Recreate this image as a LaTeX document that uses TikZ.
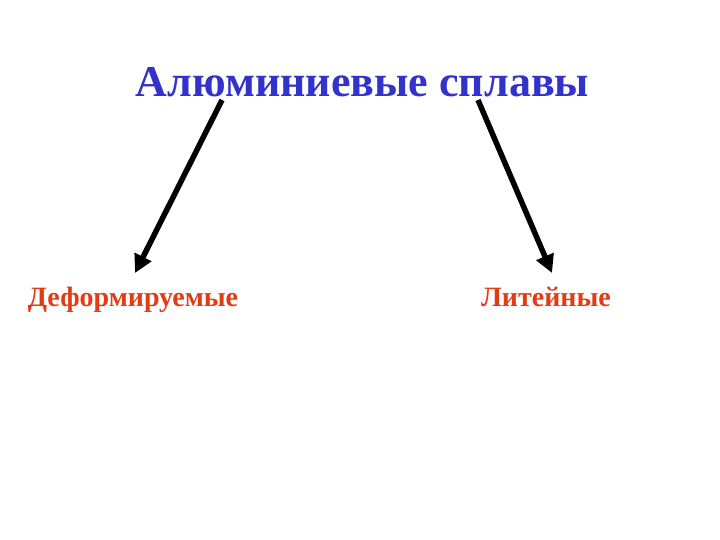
\documentclass[tikz,border=0pt]{standalone}
\usepackage{fontspec}
\setmainfont{Liberation Serif}
\usetikzlibrary{arrows.meta}
\definecolor{titleblue}{RGB}{51,51,204}
\definecolor{labelred}{RGB}{226,60,20}
\tikzset{
  arr/.style={line width=5.5pt, -{Triangle[length=18pt,width=18pt]}},
  lbl/.style={font=\bfseries\fontsize{28}{32}\selectfont, text=labelred, inner sep=0pt, anchor=base}
}
\begin{document}
\begin{tikzpicture}[x=1pt,y=-1pt]
\useasboundingbox (0,0) rectangle (720,540);
\node[font=\bfseries\fontsize{44}{48}\selectfont, text=titleblue, inner sep=0pt, anchor=base] (title) at (362.5,97) {Алюминиевые сплавы};
\node[lbl] (def) at (133,306) {Деформируемые};
\node[lbl] (lit) at (546,306) {Литейные};
\coordinate (s1) at (222,100);
\coordinate (e1) at (135,273);
\coordinate (s2) at (478,100);
\coordinate (e2) at (552,273);
\draw[arr] (s1) -- (e1);
\draw[arr] (s2) -- (e2);
\end{tikzpicture}
\end{document}
